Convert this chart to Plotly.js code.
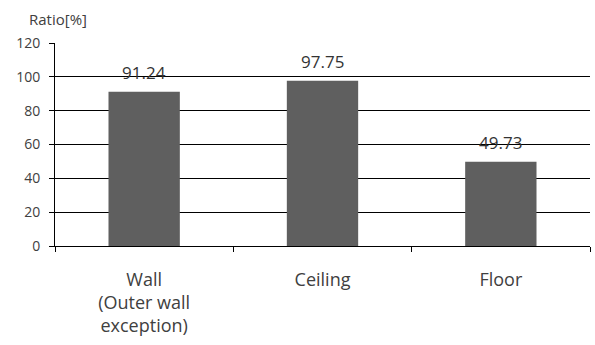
<!DOCTYPE html>
<html>
<head>
<meta charset="utf-8">
<script src="https://cdn.plot.ly/plotly-3.0.1.min.js"></script>
<style>
  html, body { margin: 0; padding: 0; background: #fff; }
  #chart { width: 595px; height: 345px; }
</style>
</head>
<body>
<div id="chart"></div>
<script>
// Share of each building element, in percent
const categories = ["Wall<br>(Outer wall<br>exception)", "Ceiling", "Floor"];
const ratios = [91.24, 97.75, 49.73];
const yTicks = [0, 20, 40, 60, 80, 100, 120];

const FONT = '"Open Sans", "Noto Sans", sans-serif';

const bars = {
  type: 'bar',
  x: categories,
  y: ratios,
  marker: { color: '#5f5f5f', line: { width: 0 } },
  hoverinfo: 'skip'
};

// value labels sit above each bar
const valueLabels = categories.map((c, i) => ({
  x: c,
  y: ratios[i],
  xref: 'x',
  yref: 'y',
  text: ratios[i].toFixed(2),
  showarrow: false,
  yanchor: 'bottom',
  yshift: 6,
  font: { family: FONT, size: 17, color: '#333333' }
}));

const layout = {
  width: 595,
  height: 345,
  margin: { l: 55, r: 5, t: 43, b: 99 },
  paper_bgcolor: '#ffffff',
  plot_bgcolor: '#ffffff',
  showlegend: false,
  bargap: 0.6,
  font: { family: FONT, color: '#404040' },
  xaxis: {
    type: 'category',
    showgrid: false,
    showline: true,
    linecolor: '#000000',
    linewidth: 1,
    ticks: 'outside',
    tickson: 'boundaries',
    ticklen: 5,
    tickcolor: '#000000',
    ticklabelstandoff: 17,
    tickfont: { family: FONT, size: 18, color: '#404040' },
    fixedrange: true
  },
  yaxis: {
    range: [0, 120],
    tickvals: yTicks,
    ticktext: yTicks.map(String),
    showgrid: true,
    gridcolor: '#000000',
    gridwidth: 1,
    zeroline: false,
    showline: true,
    linecolor: '#000000',
    linewidth: 1,
    ticks: 'outside',
    ticklen: 5,
    tickcolor: '#000000',
    ticklabelstandoff: 6,
    tickfont: { family: FONT, size: 14, color: '#404040' },
    fixedrange: true
  },
  annotations: valueLabels.concat([{
    xref: 'paper', yref: 'paper',
    x: -0.052, y: 1.0,
    xanchor: 'left', yanchor: 'bottom',
    yshift: 12,
    text: 'Ratio[%]',
    showarrow: false,
    font: { family: FONT, size: 15, color: '#404040' }
  }])
};

Plotly.newPlot('chart', [bars], layout, { staticPlot: true, displayModeBar: false });
</script>
</body>
</html>
